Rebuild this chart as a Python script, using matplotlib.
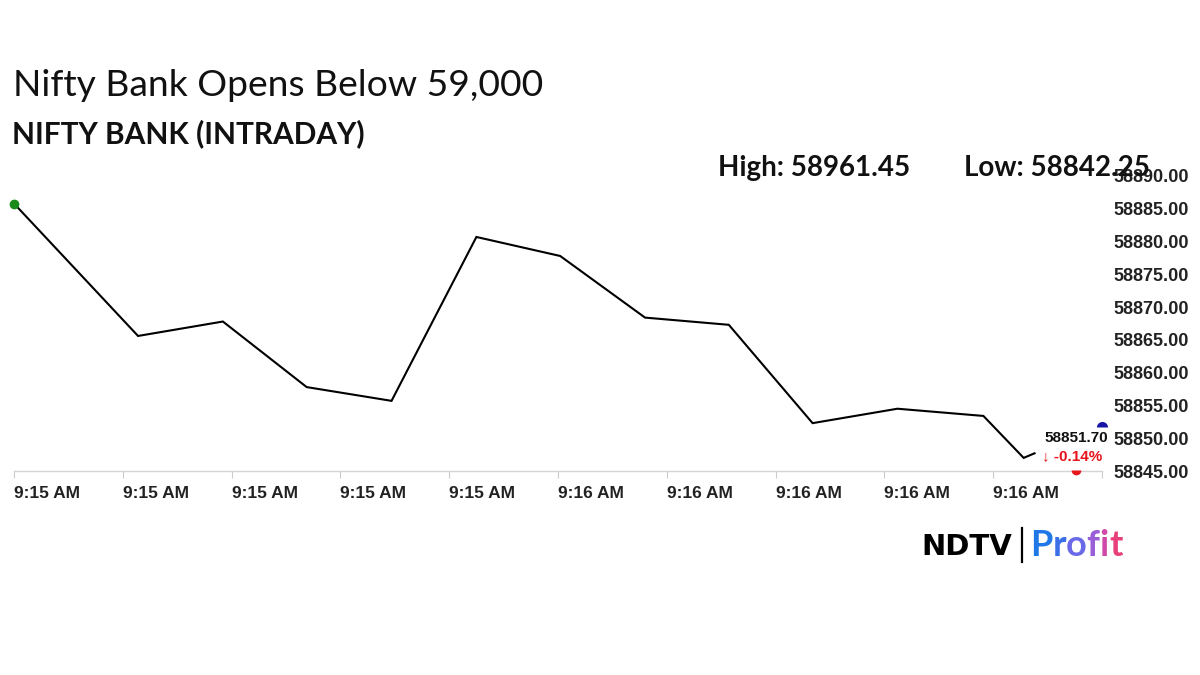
import matplotlib
matplotlib.use("Agg")
import matplotlib.pyplot as plt
from matplotlib.lines import Line2D

# Intraday data (x in tick units, one tick per label)
x_pos = [0.0, 1.14, 1.92, 2.69, 3.47, 4.25, 5.02, 5.80, 6.57, 7.34, 8.12, 8.91, 9.28, 9.38]
price = [58885.8, 58865.6, 58867.8, 58857.8, 58855.7, 58880.7, 58877.8, 58868.4,
         58867.3, 58852.3, 58854.5, 58853.4, 58847.0, 58847.7]
tick_pos = [0, 1, 2, 3, 4, 5, 6, 7, 8, 9, 10]
tick_labels = ["9:15 AM"] * 5 + ["9:16 AM"] * 5 + [""]
y_ticks = [58845, 58850, 58855, 58860, 58865, 58870, 58875, 58880, 58885, 58890]
last_x, last_val = 10.0, 58851.70
low_x, low_val = 9.76, 58845.1
change = "\u2193 -0.14%"
high_txt = "High: 58961.45"
low_txt = "Low: 58842.25"

W, H = 1200, 675
fig = plt.figure(figsize=(12, 6.75), dpi=100)
fig.patch.set_facecolor("white")

def px(x, y):
    return x / W, 1 - y / H

sans = ["Liberation Sans", "DejaVu Sans"]
head = ["Lato", "DejaVu Sans"]

ax = fig.add_axes([14 / W, 1 - 471 / H, (1102 - 14) / W, (471 - 176) / H])
ax.plot(x_pos, price, color="black", lw=1.5, solid_joinstyle="miter")
ax.plot(x_pos[0], price[0], "o", color="#1a8a1a", ms=6, clip_on=False)
ax.plot(last_x, last_val, "o", color="#1616a6", ms=8, fillstyle="top",
        markeredgewidth=0, clip_on=False, zorder=5)
ax.plot(low_x, low_val, "o", color="#e8141c", ms=7, fillstyle="bottom",
        markeredgewidth=0, clip_on=False, zorder=5)

ax.set_xlim(0, 10)
ax.set_ylim(58845, 58890)
for s in ["top", "left", "right"]:
    ax.spines[s].set_visible(False)
ax.spines["bottom"].set_color("#d4d4d4")
ax.spines["bottom"].set_linewidth(1)

ax.set_xticks(tick_pos)
ax.set_xticklabels(tick_labels)
ax.tick_params(axis="x", length=5, color="#cccccc", pad=6)
for lab in ax.get_xticklabels():
    lab.set_ha("left")
    lab.set_fontfamily(sans)
    lab.set_fontweight("bold")
    lab.set_fontsize(12.5)
    lab.set_color("#222222")

ax.yaxis.tick_right()
ax.set_yticks(y_ticks)
ax.set_yticklabels([f"{v:.2f}" for v in y_ticks])
ax.tick_params(axis="y", length=0, pad=8.5)
for lab in ax.get_yticklabels():
    lab.set_fontfamily(sans)
    lab.set_fontweight("bold")
    lab.set_fontsize(13)
    lab.set_color("#222222")

ax.text(10.055, 58850.0, f"{last_val:.2f}", ha="right", va="center", fontsize=11,
        fontweight="bold", family=sans, color="#111111", clip_on=False, zorder=6)
ax.text(10.0, 58847.3, change, ha="right", va="center", fontsize=11,
        fontweight="bold", family=sans, color="#e8141c", clip_on=False, zorder=6)

# header
fig.text(*px(13, 86), "Nifty Bank Opens Below 59,000", fontsize=26.8, family=head,
         va="center", ha="left", color="#111111")
fig.text(*px(12, 134), "NIFTY BANK (INTRADAY)", fontsize=21.5, family=head,
         fontweight="bold", va="center", ha="left", color="#111111")
fig.text(*px(718, 168), high_txt, fontsize=20, family=head, fontweight="bold",
         va="center", ha="left", color="#111111")
fig.text(*px(964, 168), low_txt, fontsize=20, family=head, fontweight="bold",
         va="center", ha="left", color="#111111")

# logo
fig.text(*px(921, 547), "NDTV", fontsize=21, family=["DejaVu Sans"], fontweight="bold",
         va="center", ha="left", color="black")
fig.add_artist(Line2D([1022 / W, 1022 / W], [1 - 528 / H, 1 - 562 / H],
                      color="black", lw=1.6))
renderer = fig.canvas.get_renderer()
cx = 1030
colors = ["#1f78e6", "#3a6fe8", "#6a6ae8", "#9a5fd8", "#cf4aa8", "#e8407a"]
for ch, c in zip("Profit", colors):
    t = fig.text(*px(cx, 545), ch, fontsize=26, family=head, fontweight="bold",
                 va="center", ha="left", color=c)
    cx += t.get_window_extent(renderer).width

fig.savefig("out.png", dpi=100)
